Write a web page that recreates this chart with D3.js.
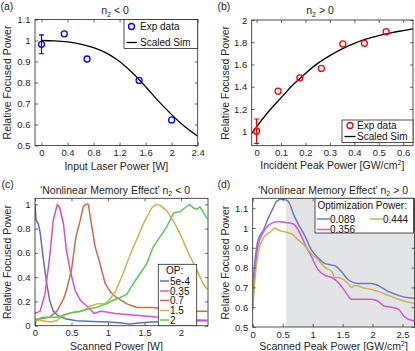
<!DOCTYPE html>
<html>
<head>
<meta charset="utf-8">
<script src="https://cdn.jsdelivr.net/npm/d3@7"></script>
<style>
  body { margin: 0; background: #fff; }
  svg { display: block; font-family: "Liberation Sans", Arial, sans-serif; }
  .axis text { font-size: 9.5px; fill: #262626; }
  .axis line { stroke: #262626; stroke-width: 0.7; }
  .label { font-size: 10.5px; fill: #262626; }
  .legend text { font-size: 10px; fill: #111; }
</style>
</head>
<body>
<svg id="chart" width="415" height="351"></svg>
<script>
// ---- (a) n2 < 0 ----
const aExpPower = [0, 0.35, 0.7, 1.5, 2.0];
const aExpFocus = [0.982, 1.032, 0.912, 0.81, 0.622];
const aExpErr = [0.045, null, null, null, null];
const aSimPower = [0, 0.2, 0.4, 0.6, 0.8, 1.0, 1.2, 1.4, 1.6, 1.8, 2.0, 2.2, 2.4];
const aSimFocus = [1.0, 0.998, 0.993, 0.983, 0.966, 0.94, 0.90, 0.845, 0.78, 0.71, 0.647, 0.59, 0.544];
const aXTicks = [0, 0.4, 0.8, 1.2, 1.6, 2, 2.4];
const aYTicks = [0.5, 0.6, 0.7, 0.8, 0.9, 1, 1.1];

// ---- (b) n2 > 0 ----
const bExpPower = [0, 0.088, 0.177, 0.265, 0.353, 0.441, 0.53];
const bExpFocus = [1.0, 1.36, 1.48, 1.565, 1.785, 1.79, 1.895];
const bExpErr = [0.11, null, null, null, null, null, null];
const bSimPower = [-0.02, 0, 0.05, 0.1, 0.15, 0.2, 0.25, 0.3, 0.35, 0.4, 0.45, 0.5, 0.55, 0.6, 0.64];
const bSimFocus = [0.98, 1.04, 1.18, 1.30, 1.42, 1.52, 1.61, 1.68, 1.74, 1.79, 1.83, 1.86, 1.885, 1.905, 1.92];
const bXTicks = [0, 0.1, 0.2, 0.3, 0.4, 0.5, 0.6];
const bYTicks = [1, 1.2, 1.4, 1.6, 1.8, 2];

// ---- (c) nonlinear memory effect, n2 < 0 ----
const cNames = ['5e-4', '0.35', '0.7', '1.5', '2'];
const cColors = ['#5b6fc4', '#d04fd6', '#cd6b47', '#cdb44f', '#5bc85c'];
const cPower = [
  [0, 0.015, 0.045, 0.07, 0.11, 0.16, 0.2, 0.25, 0.32, 0.43, 0.57, 0.8, 1.0, 1.15, 1.3, 1.45, 1.6, 1.8, 2.0, 2.2, 2.36],
  [0, 0.03, 0.07, 0.137, 0.205, 0.25, 0.306, 0.34, 0.39, 0.43, 0.48, 0.55, 0.62, 0.75, 0.81, 0.9, 1.0, 1.1, 1.3, 1.5, 1.7, 1.9, 2.1, 2.36],
  [0, 0.1, 0.2, 0.3, 0.39, 0.43, 0.5, 0.56, 0.62, 0.66, 0.7, 0.73, 0.78, 0.82, 0.89, 0.96, 1.03, 1.1, 1.26, 1.4, 1.6, 1.8, 2.0, 2.2, 2.36],
  [0, 0.1, 0.2, 0.3, 0.35, 0.45, 0.55, 0.65, 0.75, 0.85, 0.95, 1.0, 1.1, 1.2, 1.3, 1.4, 1.5, 1.6, 1.66, 1.72, 1.8, 1.9, 2.0, 2.1, 2.2, 2.3, 2.36],
  [0, 0.03, 0.1, 0.2, 0.3, 0.4, 0.52, 0.62, 0.74, 0.84, 0.98, 1.07, 1.16, 1.26, 1.35, 1.44, 1.53, 1.62, 1.71, 1.8, 1.9, 1.99, 2.05, 2.12, 2.17, 2.22, 2.26, 2.31, 2.36]
];
const cFocus = [
  [1.0, 0.87, 0.84, 0.77, 0.57, 0.35, 0.21, 0.12, 0.08, 0.055, 0.04, 0.035, 0.03, 0.025, 0.015, 0.025, 0.03, 0.03, 0.035, 0.04, 0.04],
  [0.1, 0.11, 0.12, 0.26, 0.59, 0.87, 1.0, 0.97, 0.84, 0.62, 0.46, 0.29, 0.21, 0.14, 0.1, 0.12, 0.11, 0.1, 0.09, 0.08, 0.07, 0.06, 0.05, 0.045],
  [0.05, 0.06, 0.07, 0.12, 0.22, 0.29, 0.46, 0.73, 0.87, 0.98, 1.0, 1.0, 0.81, 0.66, 0.51, 0.35, 0.28, 0.24, 0.18, 0.15, 0.15, 0.14, 0.13, 0.12, 0.12],
  [0.05, 0.04, 0.03, 0.04, 0.07, 0.1, 0.11, 0.12, 0.16, 0.18, 0.18, 0.2, 0.28, 0.42, 0.58, 0.72, 0.86, 0.97, 1.0, 0.99, 0.95, 0.86, 0.74, 0.6, 0.48, 0.35, 0.3],
  [0.02, 0.05, 0.07, 0.07, 0.07, 0.09, 0.11, 0.12, 0.14, 0.15, 0.18, 0.21, 0.23, 0.26, 0.35, 0.43, 0.51, 0.65, 0.73, 0.81, 0.93, 0.94, 0.97, 1.0, 0.97, 0.96, 0.98, 0.93, 0.88]
];
const cXTicks = [0, 0.5, 1, 1.5, 2];
const cYTicks = [0, 0.2, 0.4, 0.6, 0.8, 1];

// ---- (d) nonlinear memory effect, n2 > 0 ----
const dNames = ['0.089', '0.356', '0.444'];
const dColors = ['#6a7cc8', '#d457d6', '#c9b44f'];
const dPower = [
  [0, 0.04, 0.09, 0.18, 0.26, 0.34, 0.4, 0.48, 0.57, 0.62, 0.68, 0.76, 0.87, 0.98, 1.09, 1.21, 1.37, 1.48, 1.59, 1.76, 1.98, 2.09, 2.26, 2.43, 2.54, 2.7],
  [0, 0.04, 0.09, 0.18, 0.29, 0.43, 0.54, 0.68, 0.76, 0.87, 0.98, 1.09, 1.21, 1.32, 1.43, 1.54, 1.65, 1.82, 1.98, 2.09, 2.2, 2.32, 2.43, 2.54, 2.7],
  [0, 0.04, 0.09, 0.18, 0.29, 0.37, 0.43, 0.54, 0.65, 0.76, 0.87, 0.98, 1.09, 1.21, 1.32, 1.37, 1.43, 1.48, 1.59, 1.65, 1.71, 1.82, 1.98, 2.09, 2.26, 2.43, 2.54, 2.7]
];
const dFocus = [
  [0.70, 0.84, 0.94, 0.99, 1.05, 1.10, 1.136, 1.145, 1.14, 1.12, 1.07, 1.02, 0.96, 0.89, 0.85, 0.82, 0.81, 0.78, 0.74, 0.72, 0.72, 0.71, 0.68, 0.66, 0.65, 0.645],
  [0.605, 0.79, 0.91, 0.98, 1.02, 1.033, 1.028, 1.02, 0.99, 0.92, 0.855, 0.79, 0.76, 0.75, 0.725, 0.68, 0.64, 0.64, 0.64, 0.63, 0.605, 0.6, 0.59, 0.55, 0.53],
  [0.58, 0.75, 0.87, 0.95, 0.98, 1.0, 0.99, 0.98, 0.97, 0.94, 0.91, 0.87, 0.84, 0.80, 0.78, 0.75, 0.75, 0.745, 0.72, 0.70, 0.71, 0.70, 0.69, 0.68, 0.66, 0.64, 0.63, 0.62]
];
const dShadeFrom = 0.555;
const dXTicks = [0, 0.5, 1, 1.5, 2, 2.5];
const dYTicks = [0.5, 0.6, 0.7, 0.8, 0.9, 1, 1.1];

const svg = d3.select('#chart');
const fmt = d => String(+d.toFixed(2));

function makePanel(cfg) {
  const p = {};
  p.x = d3.scaleLinear().domain(cfg.xDomain).range([cfg.left, cfg.right]);
  p.y = d3.scaleLinear().domain(cfg.yDomain).range([cfg.bottom, cfg.top]);
  p.g = svg.append('g');
  p.clipId = cfg.id + '-clip';
  p.g.append('clipPath').attr('id', p.clipId)
    .append('rect')
    .attr('x', cfg.left).attr('y', cfg.top)
    .attr('width', cfg.right - cfg.left).attr('height', cfg.bottom - cfg.top);
  p.bg = p.g.append('g');
  p.plot = p.g.append('g').attr('clip-path', `url(#${p.clipId})`);

  // ticks point inward on all four sides, like the original
  const axes = [
    [d3.axisBottom(p.x).tickValues(cfg.xTicks).tickFormat(fmt), `translate(0,${cfg.bottom})`, 3.8],
    [d3.axisTop(p.x).tickValues(cfg.xTicks).tickFormat(''), `translate(0,${cfg.top})`, 3],
    [d3.axisLeft(p.y).tickValues(cfg.yTicks).tickFormat(fmt), `translate(${cfg.left},0)`, 4.5],
    [d3.axisRight(p.y).tickValues(cfg.yTicks).tickFormat(''), `translate(${cfg.right},0)`, 3]
  ];
  p.axisGroup = p.g.append('g');
  axes.forEach(([ax, tr, pad]) => {
    p.axisGroup.append('g')
      .attr('class', 'axis')
      .attr('transform', tr)
      .call(ax.tickSizeInner(-3).tickSizeOuter(0).tickPadding(pad))
      .call(g => g.select('.domain').remove())
      .call(g => g.selectAll('text').attr('font-family', null).attr('font-size', null));
  });
  p.box = p.g.append('rect')
    .attr('x', cfg.left).attr('y', cfg.top)
    .attr('width', cfg.right - cfg.left).attr('height', cfg.bottom - cfg.top)
    .attr('fill', 'none').attr('stroke', '#262626').attr('stroke-width', 0.8);

  // panel letter, title, axis labels
  svg.append('text').attr('class', 'label')
    .attr('x', cfg.letterX).attr('y', cfg.letterY).text(cfg.letter);
  const t = svg.append('text').attr('class', 'label')
    .attr('x', cfg.titleX).attr('y', cfg.titleY)
    .attr('text-anchor', 'middle');
  t.append('tspan').text(cfg.titlePre + 'n');
  t.append('tspan').attr('font-size', '7px').attr('dy', 2.5).text('2');
  t.append('tspan').attr('dy', -2.5).text(cfg.titlePost);

  const xl = svg.append('text').attr('class', 'label')
    .attr('x', (cfg.left + cfg.right) / 2 + (cfg.xLabelShift || 0)).attr('y', cfg.xLabelY)
    .attr('text-anchor', 'middle');
  xl.append('tspan').text(cfg.xLabel);
  if (cfg.xLabelSup) {
    xl.append('tspan').attr('font-size', '7px').attr('dy', -3.5).text('2');
    xl.append('tspan').attr('dy', 3.5).text(']');
  }
  svg.append('text').attr('class', 'label')
    .attr('transform', `translate(${cfg.yLabelX},${(cfg.top + cfg.bottom) / 2}) rotate(-90)`)
    .attr('text-anchor', 'middle')
    .text('Relative Focused Power');
  return p;
}

function drawLegendBox(x0, y0, x1, y1) {
  return svg.append('g').attr('class', 'legend')
    .call(g => g.append('rect')
      .attr('x', x0).attr('y', y0).attr('width', x1 - x0).attr('height', y1 - y0)
      .attr('fill', '#fff').attr('stroke', '#262626').attr('stroke-width', 0.8));
}

function drawExp(p, xs, ys, errs, color) {
  const pts = xs.map((v, i) => ({x: v, y: ys[i], e: errs[i]}));
  pts.filter(d => d.e != null).forEach(d => {
    const gx = p.x(d.x);
    p.plot.append('line')
      .attr('x1', gx).attr('x2', gx)
      .attr('y1', p.y(d.y - d.e)).attr('y2', p.y(d.y + d.e))
      .attr('stroke', color).attr('stroke-width', 1.2);
    [d.y - d.e, d.y + d.e].forEach(v => {
      p.plot.append('line')
        .attr('x1', gx - 2.5).attr('x2', gx + 2.5)
        .attr('y1', p.y(v)).attr('y2', p.y(v))
        .attr('stroke', color).attr('stroke-width', 1.2);
    });
  });
  p.plot.selectAll('.pt')
    .data(pts)
    .enter()
    .append('circle')
    .attr('class', 'pt')
    .attr('cx', d => p.x(d.x))
    .attr('cy', d => p.y(d.y))
    .attr('r', 3)
    .attr('fill', 'none')
    .attr('stroke', color)
    .attr('stroke-width', 1.3);
}

function drawLine(p, xs, ys, color, width, curve) {
  const line = d3.line()
    .x(d => p.x(d[0]))
    .y(d => p.y(d[1]))
    .curve(curve || d3.curveLinear);
  p.plot.append('path')
    .datum(xs.map((v, i) => [v, ys[i]]))
    .attr('d', line)
    .attr('fill', 'none')
    .attr('stroke', color)
    .attr('stroke-width', width)
    .attr('stroke-linejoin', 'round');
}

// ---------- panel (a) ----------
const pa = makePanel({
  id: 'a', left: 35, right: 197.7, top: 19.5, bottom: 145.5,
  xDomain: [-0.1, 2.4], yDomain: [0.5, 1.1], xTicks: aXTicks, yTicks: aYTicks,
  letter: '(a)', letterX: 0.5, letterY: 10,
  titleX: 115, titleY: 14, titlePre: '', titlePost: ' < 0',
  xLabel: 'Input Laser Power [W]', xLabelY: 170, yLabelX: 11
});
drawLine(pa, aSimPower, aSimFocus, '#000', 1.3, d3.curveMonotoneX);
drawExp(pa, aExpPower, aExpFocus, aExpErr, '#0000ff');
const la = drawLegendBox(124, 19.5, 197.7, 48.5);
la.append('circle').attr('cx', 131.5).attr('cy', 26.5).attr('r', 3)
  .attr('fill', 'none').attr('stroke', '#0000ff').attr('stroke-width', 1.3);
la.append('text').attr('x', 140).attr('y', 30).text('Exp data');
la.append('line').attr('x1', 126.5).attr('x2', 137).attr('y1', 42.5).attr('y2', 42.5)
  .attr('stroke', '#000').attr('stroke-width', 1.3);
la.append('text').attr('x', 140).attr('y', 46).text('Scaled Sim');

// ---------- panel (b) ----------
const pb = makePanel({
  id: 'b', left: 251.7, right: 413, top: 20, bottom: 145.7,
  xDomain: [-0.02, 0.64], yDomain: [0.87, 2.0], xTicks: bXTicks, yTicks: bYTicks,
  letter: '(b)', letterX: 217.5, letterY: 10,
  titleX: 320, titleY: 14, titlePre: '', titlePost: ' > 0',
  xLabel: 'Incident Peak Power [GW/cm', xLabelSup: true, xLabelY: 168.5, yLabelX: 229
});
drawLine(pb, bSimPower, bSimFocus, '#000', 1.3, d3.curveMonotoneX);
drawExp(pb, bExpPower, bExpFocus, bExpErr, '#ff0000');
const lb = drawLegendBox(342, 120, 413, 142.5);
lb.append('circle').attr('cx', 350).attr('cy', 125.5).attr('r', 3)
  .attr('fill', 'none').attr('stroke', '#ff0000').attr('stroke-width', 1.3);
lb.append('text').attr('x', 357).attr('y', 129).text('Exp data');
lb.append('line').attr('x1', 344.5).attr('x2', 355.5).attr('y1', 136.5).attr('y2', 136.5)
  .attr('stroke', '#000').attr('stroke-width', 1.3);
lb.append('text').attr('x', 357).attr('y', 140).text('Scaled Sim');

// ---------- panel (c) ----------
const pc = makePanel({
  id: 'c', left: 35, right: 208, top: 198.3, bottom: 325.7,
  xDomain: [0, 2.37], yDomain: [0, 1.05], xTicks: cXTicks, yTicks: cYTicks,
  letter: '(c)', letterX: 1.5, letterY: 188,
  titleX: 115, titleY: 193.5, titlePre: '\u2018Nonlinear Memory Effect\u2019 ', titlePost: ' < 0',
  xLabel: 'Scanned Power [W]', xLabelY: 349.5, xLabelShift: -5, yLabelX: 11
});
cPower.forEach((xs, i) => drawLine(pc, xs, cFocus[i], cColors[i], 1.5));
const lc = drawLegendBox(158.3, 264.3, 196.7, 325.7);
lc.append('text').attr('x', 166).attr('y', 274).text('OP:');
const cRowY = [281, 291, 300.5, 310.5, 320];
cNames.forEach((name, i) => {
  lc.append('line').attr('x1', 160).attr('x2', 169).attr('y1', cRowY[i]).attr('y2', cRowY[i])
    .attr('stroke', cColors[i]).attr('stroke-width', 1.5);
  lc.append('text').attr('x', 170).attr('y', cRowY[i] + 3.5).text(name);
});

// ---------- panel (d) ----------
const pd = makePanel({
  id: 'd', left: 252.7, right: 414.5, top: 198.3, bottom: 327,
  xDomain: [0, 2.7], yDomain: [0.5, 1.15], xTicks: dXTicks, yTicks: dYTicks,
  letter: '(d)', letterX: 217.5, letterY: 188,
  titleX: 333, titleY: 193.5, titlePre: '\u2018Nonlinear Memory Effect\u2019 ', titlePost: ' > 0',
  xLabel: 'Scanned Peak Power [GW/cm', xLabelSup: true, xLabelY: 349.5, yLabelX: 229
});
pd.bg.append('rect')
  .attr('x', pd.x(dShadeFrom)).attr('y', pd.y(1.15))
  .attr('width', pd.x(2.7) - pd.x(dShadeFrom)).attr('height', pd.y(0.5) - pd.y(1.15))
  .attr('fill', '#e3e4e6');
dPower.forEach((xs, i) => drawLine(pd, xs, dFocus[i], dColors[i], 1.5, d3.curveMonotoneX));
const ld = drawLegendBox(315, 198.3, 413.5, 233);
ld.append('text').attr('x', 317.5).attr('y', 208.5).text('Optimization Power:');
const dLegPos = [[317, 219], [317, 229.5], [370, 219]];
dNames.forEach((name, i) => {
  const [lx, ly] = dLegPos[i];
  ld.append('line').attr('x1', lx).attr('x2', lx + 13).attr('y1', ly).attr('y2', ly)
    .attr('stroke', dColors[i]).attr('stroke-width', 1.5);
  ld.append('text').attr('x', lx + 13).attr('y', ly + 3.5).text(name);
});
</script>
</body>
</html>
